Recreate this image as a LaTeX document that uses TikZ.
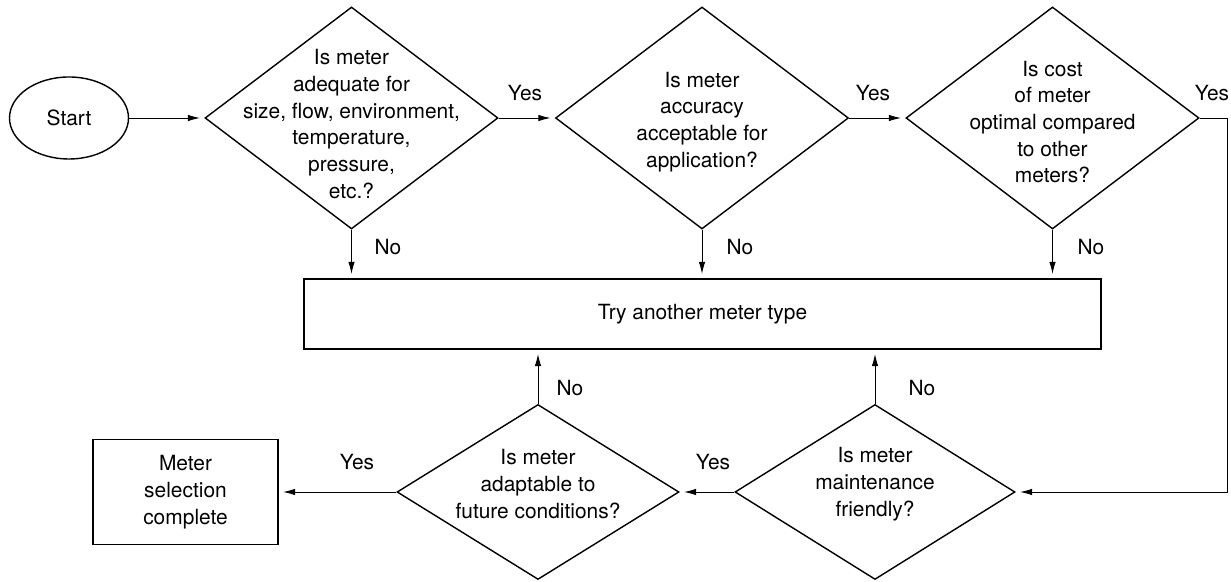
\documentclass[tikz,border=0pt]{standalone}
\usepackage{fontspec}
\setmainfont{TeX Gyre Heros}
\usetikzlibrary{shapes.geometric}
\usetikzlibrary{arrows.meta}

\begin{document}
\begin{tikzpicture}[
  font=\fontsize{11.9}{15.2}\selectfont,
  decision/.style={diamond,draw,line width=0.8pt,inner sep=0pt},
  block/.style={rectangle,draw,line width=0.8pt,align=center},
  qtext/.style={align=center,inner sep=0pt},
  answer/.style={inner sep=0pt},
  flow/.style={-{Latex[length=2.4mm,width=1.3mm]},line width=0.5pt,shorten >=2.5pt}
]
\useasboundingbox (0,0) rectangle (24.62,11.64);

% top row
\node[ellipse,draw,line width=0.8pt,minimum width=2.38cm,minimum height=1.64cm] (start) at (1.38,9.28) {Start};
\node[decision,minimum width=5.86cm,minimum height=4.44cm] (d1) at (7.03,9.28) {};
\node[qtext] (d1t) at (7.03,9.16) {Is meter\\adequate for\\size, flow, environment,\\temperature,\\pressure,\\etc.?};
\node[decision,minimum width=5.86cm,minimum height=4.44cm] (d2) at (14.04,9.28) {};
\node[qtext] (d2t) at (14.04,9.20) {Is meter\\accuracy\\acceptable for\\application?};
\node[decision,minimum width=5.86cm,minimum height=4.44cm] (d3) at (21.05,9.28) {};
\node[qtext] (d3t) at (21.05,9.20) {Is cost\\of meter\\optimal compared\\to other\\meters?};
\coordinate (turn) at (24.54,9.28);

% middle
\node[block,minimum width=15.94cm,minimum height=1.4cm] (box) at (14.05,5.36) {Try another meter type};

% bottom row
\node[decision,minimum width=5.64cm,minimum height=3.5cm] (d4) at (10.76,1.80) {};
\node[qtext] (d4t) at (10.76,1.96) {Is meter\\adaptable to\\future conditions?};
\node[decision,minimum width=5.6cm,minimum height=3.5cm] (d5) at (17.50,1.80) {};
\node[qtext] (d5t) at (17.50,1.96) {Is meter\\maintenance\\friendly?};
\node[block,minimum width=3.7cm,minimum height=2.1cm] (done) at (3.71,1.80) {Meter\\selection\\complete};

% connectors
\draw[flow] (start.east) -- (d1.west);
\draw[flow] (d1.east) -- (d2.west);
\draw[flow] (d2.east) -- (d3.west);
\draw[flow] (d1.south) -- (d1.south |- box.north);
\draw[flow] (d2.south) -- (d2.south |- box.north);
\draw[flow] (d3.south) -- (d3.south |- box.north);
\draw[flow] (d3.east) -- (turn) |- (d5.east);
\draw[flow] (d5.west) -- (d4.east);
\draw[flow] (d4.west) -- (done.east);
\draw[flow] (d4.north) -- (d4.north |- box.south);
\draw[flow] (d5.north) -- (d5.north |- box.south);

% yes / no
\node[answer] (y1) at (10.50,9.78) {Yes};
\node[answer] (y2) at (17.46,9.78) {Yes};
\node[answer] (y3) at (24.24,9.78) {Yes};
\node[answer] (y4) at (7.14,2.40) {Yes};
\node[answer] (y5) at (14.26,2.40) {Yes};
\node[answer] (n1) at (7.76,6.70) {No};
\node[answer] (n2) at (14.80,6.70) {No};
\node[answer] (n3) at (21.82,6.70) {No};
\node[answer] (n4) at (11.40,3.88) {No};
\node[answer] (n5) at (18.44,3.88) {No};

\end{tikzpicture}
\end{document}
